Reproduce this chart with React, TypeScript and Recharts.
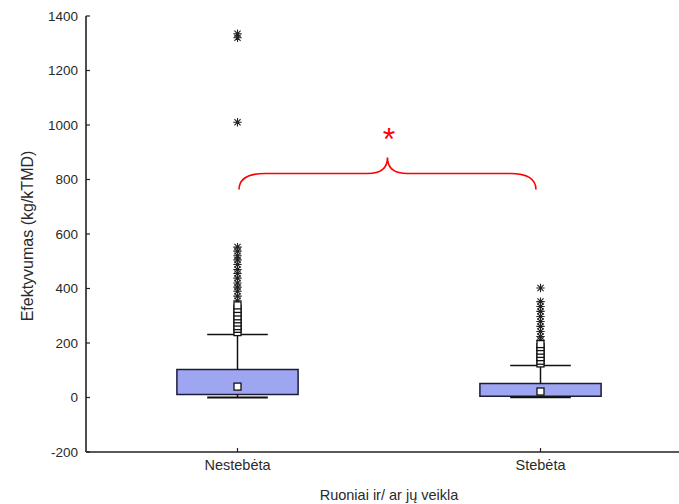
import React from 'react';
import {
  ScatterChart,
  Scatter,
  XAxis,
  YAxis,
  ReferenceArea,
  ReferenceLine,
  ReferenceDot,
} from 'recharts';

// ---- data ----
const categories = ['Nestebėta', 'Stebėta'];
const q1 = [11, 5];
const q3 = [103, 51];
const medians = [40, 22];
const whiskerLow = [0, 1];
const whiskerHigh = [231, 117];
const outliers0 = [240, 252, 262, 275, 287, 298, 312, 325, 338];
const outliers1 = [125, 135, 148, 160, 172, 185, 196];
const extremes0 = [355, 372, 390, 405, 420, 438, 455, 470, 488, 505, 520, 537, 552, 1010, 1320, 1335];
const extremes1 = [210, 224, 242, 261, 279, 297, 316, 334, 352, 402];
const yTicks = [-200, 0, 200, 400, 600, 800, 1000, 1200, 1400];
const xTicks = [0, 1];
const braceRange = { x1: 0.005, x2: 0.985, low: 763, high: 881 };
const significanceY = 976;

const FONT = '"Liberation Sans", Arial, sans-serif';
const TEXT = '#2a2a2a';
const AXIS = '#222';

const toPoints = (i: number, vals: number[]) => vals.map((v) => ({ x: i, y: v }));
const outlierPts = [...toPoints(0, outliers0), ...toPoints(1, outliers1)];
const extremePts = [...toPoints(0, extremes0), ...toPoints(1, extremes1)];
const medianPts = medians.map((m, i) => ({ x: i, y: m }));

const SquareShape = (p: any) => (
  <rect x={p.cx - 3.5} y={p.cy - 3.5} width={7} height={7} fill="#fff" stroke="#111" strokeWidth={1.3} />
);

const StarShape = (p: any) => {
  const r = 4.2;
  const d = 3.1;
  const { cx, cy } = p;
  return (
    <path
      d={`M${cx - r},${cy}L${cx + r},${cy}M${cx},${cy - r}L${cx},${cy + r}M${cx - d},${cy - d}L${cx + d},${cy + d}M${cx - d},${cy + d}L${cx + d},${cy - d}`}
      stroke="#222"
      strokeWidth={1.1}
      fill="none"
    />
  );
};

const BraceShape = (p: any) => {
  const { x, y, width: w, height: h } = p;
  const cx = x + w / 2;
  const my = y + h / 2;
  const r = 26;
  const r2 = 20;
  const d = `M${x},${y + h} Q${x},${my} ${x + r},${my} L${cx - r2},${my} Q${cx},${my} ${cx},${y} Q${cx},${my} ${cx + r2},${my} L${x + w - r},${my} Q${x + w},${my} ${x + w},${y + h}`;
  return <path d={d} fill="none" stroke="#ff0000" strokeWidth={1.6} />;
};

const SigShape = (p: any) => (
  <text x={p.cx} y={p.cy + 18} textAnchor="middle" fill="#ff0000" fontSize={32} fontFamily={FONT}>
    *
  </text>
);

export default function App() {
  return (
    <div style={{ position: 'absolute', left: 0, top: 0, width: 679, height: 504, overflow: 'hidden', background: '#fff' }}>
      <ScatterChart width={700} height={504} margin={{ top: 16, right: 8, bottom: 0, left: 0 }}>
        <XAxis
          xAxisId="top"
          orientation="top"
          type="number"
          dataKey="x"
          domain={[-0.5, 1.5]}
          ticks={xTicks}
          height={0}
          tickSize={-4}
          tickFormatter={() => ''}
          axisLine={{ stroke: AXIS, strokeWidth: 1.6 }}
          tickLine={{ stroke: AXIS, strokeWidth: 1.2 }}
        />
        <XAxis
          type="number"
          dataKey="x"
          domain={[-0.5, 1.5]}
          ticks={xTicks}
          height={52}
          tickSize={-4}
          tickMargin={12}
          tickFormatter={(v: number) => categories[v]}
          tick={{ fill: TEXT, fontSize: 14.5, fontFamily: FONT }}
          axisLine={{ stroke: AXIS, strokeWidth: 1.6 }}
          tickLine={{ stroke: AXIS, strokeWidth: 1.2 }}
          label={{
            content: (props: any) => {
              const vb = props.viewBox || {};
              return (
                <text x={vb.x + vb.width / 2} y={vb.y + 48} textAnchor="middle" fill={TEXT} fontSize={14.5} fontFamily={FONT}>
                  Ruoniai ir/ ar jų veikla
                </text>
              );
            },
          }}
        />
        <YAxis
          type="number"
          dataKey="y"
          domain={[-200, 1400]}
          ticks={yTicks}
          width={86}
          tickSize={-4}
          tickMargin={12}
          tick={{ fill: TEXT, fontSize: 13.5, fontFamily: FONT }}
          axisLine={{ stroke: AXIS, strokeWidth: 1.6 }}
          tickLine={{ stroke: AXIS, strokeWidth: 1.2 }}
          label={{
            content: () => (
              <text
                x={27}
                y={236}
                transform="rotate(-90, 27, 236)"
                textAnchor="middle"
                dominantBaseline="central"
                fill={TEXT}
                fontSize={16}
                fontFamily={FONT}
              >
                Efektyvumas (kg/kTMD)
              </text>
            ),
          }}
        />

        {categories.map((c, i) => (
          <ReferenceLine
            key={`wh-${c}`}
            segment={[{ x: i, y: q3[i] }, { x: i, y: whiskerHigh[i] }]}
            stroke="#111"
            strokeWidth={1.5}
          />
        ))}
        {categories.map((c, i) => (
          <ReferenceLine
            key={`wl-${c}`}
            segment={[{ x: i, y: q1[i] }, { x: i, y: whiskerLow[i] }]}
            stroke="#111"
            strokeWidth={1.5}
          />
        ))}
        {categories.map((c, i) => (
          <ReferenceLine
            key={`ch-${c}`}
            segment={[{ x: i - 0.1, y: whiskerHigh[i] }, { x: i + 0.1, y: whiskerHigh[i] }]}
            stroke="#111"
            strokeWidth={1.5}
          />
        ))}
        {categories.map((c, i) => (
          <ReferenceLine
            key={`cl-${c}`}
            segment={[{ x: i - 0.1, y: whiskerLow[i] }, { x: i + 0.1, y: whiskerLow[i] }]}
            stroke="#111"
            strokeWidth={1.8}
          />
        ))}
        {categories.map((c, i) => (
          <ReferenceArea
            key={`box-${c}`}
            x1={i - 0.2}
            x2={i + 0.2}
            y1={q1[i]}
            y2={q3[i]}
            fill="#9ea6f2"
            fillOpacity={1}
            stroke="#1c1c3a"
            strokeWidth={1.5}
          />
        ))}

        <ReferenceArea
          x1={braceRange.x1}
          x2={braceRange.x2}
          y1={braceRange.low}
          y2={braceRange.high}
          shape={BraceShape}
        />
        <ReferenceDot x={0.5} y={significanceY} r={0} shape={SigShape} />

        <Scatter data={extremePts} shape={StarShape} isAnimationActive={false} />
        <Scatter data={outlierPts} shape={SquareShape} isAnimationActive={false} />
        <Scatter data={medianPts} shape={SquareShape} isAnimationActive={false} />
      </ScatterChart>
    </div>
  );
}
